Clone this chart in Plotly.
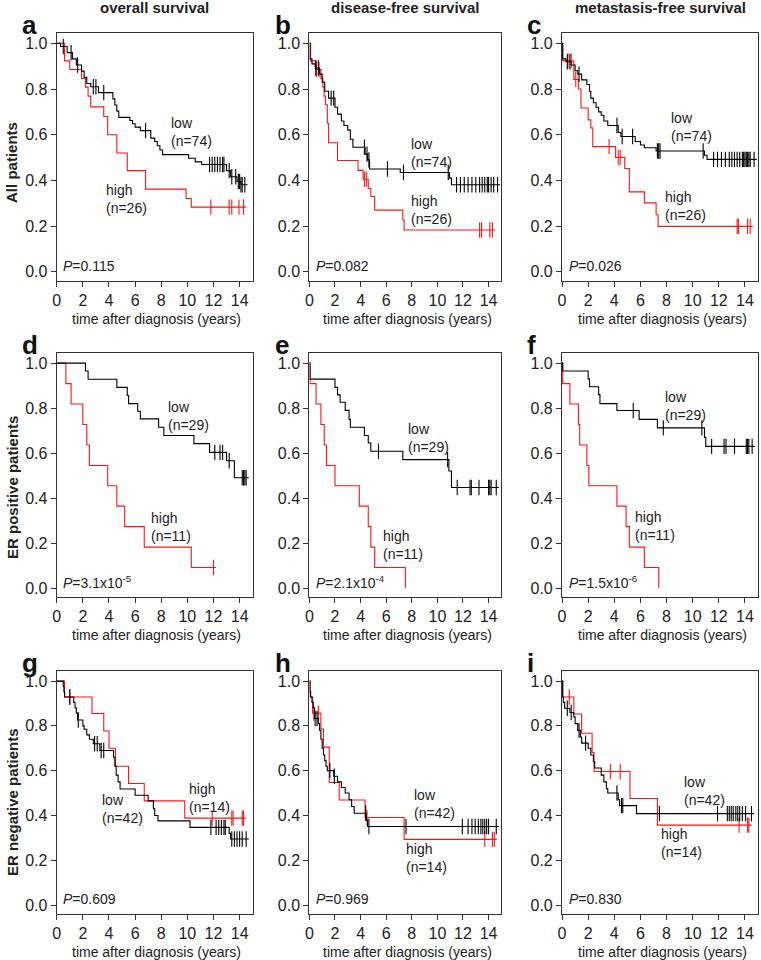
import plotly.graph_objects as go
from plotly.subplots import make_subplots

# ---- data ----
# event times (years) and survival after each step; censor times

# a: all patients, overall survival
A_LOW_T = [0.3, 0.8, 1.2, 1.5, 1.9, 2.1, 2.3, 2.6, 3.2, 4.3, 4.45, 4.6, 4.75, 5.6, 5.8, 6.0, 6.4, 7.2, 7.5,
           7.7, 7.9, 8.1, 10.1, 10.6, 11.1, 13.0, 13.3, 13.8, 14.1]
A_LOW_S = [0.986, 0.959, 0.932, 0.905, 0.878, 0.851, 0.824, 0.810, 0.784, 0.757, 0.730, 0.703, 0.676, 0.662,
           0.648, 0.633, 0.618, 0.585, 0.570, 0.552, 0.533, 0.513, 0.497, 0.481, 0.470, 0.443, 0.416, 0.395, 0.381]
A_LOW_C = [0.5, 1.1, 1.6, 2.8, 3.0, 3.6, 6.8, 11.7, 11.9, 12.1, 12.3, 12.5, 12.7, 12.8, 13.2, 13.4, 13.7,
           13.9, 14.0, 14.1, 14.2, 14.4]
A_HIGH_T = [0.6, 1.0, 1.9, 2.2, 2.4, 2.6, 3.6, 3.9, 4.6, 5.4, 6.8, 9.9, 10.3]
A_HIGH_S = [0.923, 0.885, 0.846, 0.808, 0.769, 0.722, 0.680, 0.600, 0.520, 0.443, 0.362, 0.321, 0.283]
A_HIGH_C = [11.8, 13.2, 13.4, 13.95, 14.3]

# b: all patients, disease-free survival
B_LOW_T = [0.05, 0.2, 0.45, 0.8, 1.0, 1.2, 1.5, 2.0, 2.2, 2.5, 2.7, 3.0, 3.2, 3.4, 4.35, 4.55, 4.7, 7.1, 10.95, 11.1]
B_LOW_S = [0.932, 0.910, 0.892, 0.865, 0.830, 0.790, 0.760, 0.720, 0.690, 0.660, 0.640, 0.620, 0.580, 0.545,
           0.515, 0.490, 0.450, 0.435, 0.410, 0.381]
B_LOW_C = [0.5, 0.7, 1.7, 1.9, 4.3, 4.5, 4.65, 6.1, 7.35, 10.85, 11.5, 11.8, 12.1, 12.4, 12.7, 13.0, 13.3,
           13.5, 13.7, 13.9, 14.0, 14.2, 14.4, 14.7]
B_HIGH_T = [0.1, 0.5, 0.9, 1.05, 1.15, 1.25, 1.4, 1.5, 2.2, 3.8, 4.2, 4.6, 4.8, 5.1, 7.3, 7.4]
B_HIGH_S = [0.923, 0.885, 0.846, 0.808, 0.769, 0.731, 0.650, 0.565, 0.487, 0.444, 0.405, 0.365, 0.330, 0.270,
            0.227, 0.183]
B_HIGH_C = [0.55, 0.75, 4.3, 4.45, 13.3, 13.45, 14.1, 14.3]

# c: all patients, metastasis-free survival
C_LOW_T = [0.05, 0.3, 0.7, 1.0, 1.2, 1.5, 1.9, 2.1, 2.2, 2.4, 2.6, 2.8, 3.0, 3.2, 3.5, 4.3, 4.5, 5.6, 6.0,
           6.3, 7.2, 10.9, 11.1]
C_LOW_S = [0.932, 0.919, 0.905, 0.880, 0.865, 0.840, 0.820, 0.790, 0.760, 0.740, 0.720, 0.700, 0.685, 0.660,
           0.640, 0.610, 0.592, 0.570, 0.555, 0.543, 0.529, 0.510, 0.492]
C_LOW_C = [0.4, 0.6, 1.3, 4.2, 4.6, 5.4, 7.3, 7.4, 7.5, 10.8, 11.6, 11.9, 12.2, 12.5, 12.8, 13.0, 13.2, 13.4,
           13.6, 13.8, 13.9, 14.0, 14.1, 14.2, 14.3, 14.4, 14.7]
C_HIGH_T = [0.05, 0.9, 1.25, 1.45, 2.0, 2.2, 2.35, 4.1, 4.8, 5.15, 6.3, 7.2, 7.35]
C_HIGH_S = [0.923, 0.842, 0.800, 0.717, 0.665, 0.630, 0.548, 0.500, 0.452, 0.350, 0.302, 0.250, 0.199]
C_HIGH_C = [0.45, 0.7, 1.05, 3.6, 4.3, 4.45, 13.4, 13.5, 14.2, 14.4]

# d: ER positive, overall survival
D_LOW_T = [2.2, 2.4, 4.6, 5.4, 5.5, 6.2, 6.4, 7.8, 8.2, 10.5, 11.7, 13.0, 13.6]
D_LOW_S = [0.965, 0.928, 0.892, 0.856, 0.820, 0.786, 0.752, 0.715, 0.678, 0.642, 0.603, 0.566, 0.490]
D_LOW_C = [12.1, 12.5, 12.7, 13.2, 14.2, 14.3, 14.4, 14.5]
D_HIGH_T = [0.7, 1.1, 2.0, 2.3, 2.5, 3.9, 4.6, 5.2, 6.7, 10.3]
D_HIGH_S = [0.909, 0.818, 0.727, 0.636, 0.545, 0.455, 0.364, 0.273, 0.182, 0.091]
D_HIGH_C = [12.0]

# e: ER positive, disease-free survival
E_LOW_T = [0.05, 2.0, 2.2, 2.4, 2.8, 3.1, 3.2, 4.3, 4.6, 4.8, 7.3, 10.9, 11.1]
E_LOW_S = [0.929, 0.892, 0.859, 0.826, 0.790, 0.750, 0.715, 0.678, 0.645, 0.608, 0.571, 0.520, 0.447]
E_LOW_C = [5.4, 10.8, 11.55, 12.55, 12.65, 13.25, 14.0, 14.1, 14.2, 14.6]
E_HIGH_T = [0.05, 0.52, 0.9, 1.16, 1.34, 2.0, 3.9, 4.6, 4.8, 5.1, 7.5]
E_HIGH_S = [0.909, 0.818, 0.727, 0.636, 0.545, 0.455, 0.364, 0.273, 0.182, 0.091, 0.0]
E_HIGH_C = []

# f: ER positive, metastasis-free survival
F_LOW_T = [0.05, 2.0, 2.1, 2.8, 2.9, 4.2, 5.9, 7.3, 10.9, 11.0]
F_LOW_S = [0.965, 0.930, 0.895, 0.860, 0.820, 0.789, 0.750, 0.712, 0.670, 0.630]
F_LOW_C = [5.45, 7.75, 10.7, 11.45, 12.4, 12.55, 13.2, 14.1, 14.2, 14.3, 14.55]
F_HIGH_T = [0.05, 0.6, 1.25, 1.35, 1.9, 2.05, 4.2, 4.9, 5.15, 6.3, 7.4]
F_HIGH_S = [0.909, 0.818, 0.727, 0.636, 0.545, 0.455, 0.364, 0.273, 0.182, 0.091, 0.0]
F_HIGH_C = []

# g: ER negative, overall survival
G_LOW_T = [0.5, 0.55, 0.6, 1.3, 1.4, 1.5, 1.6, 2.0, 2.1, 2.3, 2.5, 2.8, 3.3, 4.35, 4.45, 4.55, 4.7, 4.85, 6.0,
           7.0, 7.4, 7.5, 7.75, 10.2, 13.2, 13.3]
G_LOW_S = [0.976, 0.952, 0.929, 0.905, 0.881, 0.857, 0.826, 0.800, 0.785, 0.760, 0.740, 0.720, 0.690, 0.660,
           0.620, 0.580, 0.550, 0.518, 0.490, 0.465, 0.430, 0.400, 0.376, 0.347, 0.320, 0.295]
G_LOW_C = [1.0, 1.65, 2.9, 3.1, 3.4, 3.6, 11.8, 12.2, 12.4, 12.6, 12.8, 12.9, 13.4, 13.6, 13.8, 14.0, 14.2, 14.5]
G_HIGH_T = [0.6, 2.7, 3.6, 4.0, 4.5, 5.5, 6.7, 9.8]
G_HIGH_S = [0.929, 0.855, 0.777, 0.700, 0.620, 0.543, 0.465, 0.388]
G_HIGH_C = [1.0, 11.9, 13.4, 13.5, 14.2, 14.3]

# h: ER negative, disease-free survival
H_LOW_T = [0.05, 0.1, 0.2, 0.3, 0.4, 0.7, 0.8, 0.9, 1.0, 1.1, 1.2, 1.3, 1.4, 1.9, 2.2, 2.5, 2.8, 3.1, 3.3,
           3.5, 4.45, 4.55]
H_LOW_S = [0.952, 0.929, 0.905, 0.881, 0.833, 0.810, 0.780, 0.740, 0.700, 0.670, 0.645, 0.620, 0.600, 0.575,
           0.550, 0.525, 0.500, 0.470, 0.440, 0.410, 0.380, 0.351]
H_LOW_C = [0.45, 0.6, 1.6, 1.95, 4.4, 4.65, 7.55, 11.95, 12.4, 12.7, 12.95, 13.2, 13.4, 13.55, 13.7, 13.85,
           14.0, 14.6]
H_HIGH_T = [0.05, 0.25, 0.9, 1.1, 1.55, 2.33, 4.35, 7.4]
H_HIGH_S = [0.929, 0.857, 0.786, 0.705, 0.547, 0.469, 0.391, 0.293]
H_HIGH_C = [0.35, 0.7, 4.5, 13.7, 14.3, 14.45]

# i: ER negative, metastasis-free survival
I_LOW_T = [0.05, 0.1, 0.2, 0.6, 0.9, 1.0, 1.2, 1.4, 1.5, 2.0, 2.2, 2.4, 2.5, 3.0, 3.2, 3.4, 3.5, 4.3, 4.4, 5.7]
I_LOW_S = [0.929, 0.905, 0.879, 0.860, 0.840, 0.810, 0.780, 0.750, 0.723, 0.700, 0.670, 0.640, 0.612, 0.580,
           0.550, 0.520, 0.500, 0.470, 0.444, 0.408]
I_LOW_C = [0.4, 0.7, 1.3, 1.8, 4.2, 4.55, 4.65, 7.45, 11.9, 12.65, 12.8, 12.95, 13.1, 13.3, 13.45, 13.6, 13.8,
           14.05, 14.5]
I_HIGH_T = [0.05, 0.9, 1.5, 2.3, 2.45, 5.2, 7.3]
I_HIGH_S = [0.929, 0.853, 0.767, 0.681, 0.596, 0.476, 0.357]
I_HIGH_C = [0.55, 3.7, 4.45, 13.55, 14.2, 14.3]

P_TEXT = ['0.115', '0.082', '0.026', '3.1x10<sup>-5</sup>', '2.1x10<sup>-4</sup>', '1.5x10<sup>-6</sup>',
          '0.609', '0.969', '0.830']
N_LOW = [74, 74, 74, 29, 29, 29, 42, 42, 42]
N_HIGH = [26, 26, 26, 11, 11, 11, 14, 14, 14]
LETTERS = ['a', 'b', 'c', 'd', 'e', 'f', 'g', 'h', 'i']
COL_TITLES = ['overall survival', 'disease-free survival', 'metastasis-free survival']
ROW_TITLES = ['All patients', 'ER positive patients', 'ER negative patients']

LOW = [(A_LOW_T, A_LOW_S, A_LOW_C), (B_LOW_T, B_LOW_S, B_LOW_C), (C_LOW_T, C_LOW_S, C_LOW_C),
       (D_LOW_T, D_LOW_S, D_LOW_C), (E_LOW_T, E_LOW_S, E_LOW_C), (F_LOW_T, F_LOW_S, F_LOW_C),
       (G_LOW_T, G_LOW_S, G_LOW_C), (H_LOW_T, H_LOW_S, H_LOW_C), (I_LOW_T, I_LOW_S, I_LOW_C)]
HIGH = [(A_HIGH_T, A_HIGH_S, A_HIGH_C), (B_HIGH_T, B_HIGH_S, B_HIGH_C), (C_HIGH_T, C_HIGH_S, C_HIGH_C),
        (D_HIGH_T, D_HIGH_S, D_HIGH_C), (E_HIGH_T, E_HIGH_S, E_HIGH_C), (F_HIGH_T, F_HIGH_S, F_HIGH_C),
        (G_HIGH_T, G_HIGH_S, G_HIGH_C), (H_HIGH_T, H_HIGH_S, H_HIGH_C), (I_HIGH_T, I_HIGH_S, I_HIGH_C)]

# label placement (data coords: x left edge, y centre of the two lines)
LOW_POS = [(8.6, 0.61), (7.8, 0.52), (8.2, 0.635), (8.4, 0.765), (7.55, 0.665), (7.7, 0.81),
           (3.3, 0.43), (8.0, 0.45), (9.2, 0.51)]
HIGH_POS = [(3.6, 0.32), (7.8, 0.27), (7.75, 0.29), (7.1, 0.27), (5.6, 0.19), (5.4, 0.275),
            (10.0, 0.48), (7.4, 0.21), (7.4, 0.275)]

W, H = 761, 960
COL_X = [(53, 250), (307, 500), (561, 758)]   # box edges in px
ROW_Y = [(33, 281), (353, 597), (671, 914)]
RED = '#ff1414'
FONT = 'Arial, Liberation Sans, sans-serif'
TAIL = 0.2


def step_at(t, times, surv):
    s = 1.0
    for ti, si in zip(times, surv):
        if ti <= t:
            s = si
    return s


def curve(times, surv, cens):
    end = max(times + cens) + (TAIL if cens else 0)
    xs = [0] + times + [end]
    ys = [1.0] + surv + [surv[-1] if surv else 1.0]
    cy = [step_at(c, times, surv) for c in cens]
    return xs, ys, cy


fig = make_subplots(rows=3, cols=3)

for k in range(9):
    r, c = k // 3, k % 3
    for grp, color in ((HIGH[k], RED), (LOW[k], 'black')):
        t, s, cens = grp
        xs, ys, cy = curve(t, s, cens)
        fig.add_trace(go.Scatter(x=xs, y=ys, mode='lines', line=dict(color=color, width=1.1, shape='hv'),
                                 showlegend=False, hoverinfo='skip'), row=r + 1, col=c + 1)
        if cens:
            fig.add_trace(go.Scatter(x=cens, y=cy, mode='markers', showlegend=False, hoverinfo='skip',
                                     marker=dict(symbol='line-ns', size=11, line=dict(width=1.1, color=color))),
                          row=r + 1, col=c + 1)

annotations = []
for k in range(9):
    r, c = k // 3, k % 3
    x0, x1 = COL_X[c]
    y0, y1 = ROW_Y[r]
    fig.update_xaxes(domain=[x0 / W, x1 / W], row=r + 1, col=c + 1)
    fig.update_yaxes(domain=[1 - y1 / H, 1 - y0 / H], row=r + 1, col=c + 1)
    suf = '' if k == 0 else str(k + 1)
    xr, yr = 'x' + suf, 'y' + suf
    annotations.append(dict(x=LOW_POS[k][0], y=LOW_POS[k][1], xref=xr, yref=yr, xanchor='left', yanchor='middle',
                            align='left', showarrow=False, text='low<br>(n=%d)' % N_LOW[k],
                            font=dict(size=14, color='#222')))
    annotations.append(dict(x=HIGH_POS[k][0], y=HIGH_POS[k][1], xref=xr, yref=yr, xanchor='left',
                            yanchor='middle', align='left', showarrow=False, text='high<br>(n=%d)' % N_HIGH[k],
                            font=dict(size=14, color='#222')))
    annotations.append(dict(x=0.35, y=0.025, xref=xr, yref=yr, xanchor='left', yanchor='middle',
                            showarrow=False, text='<i>P</i>=' + P_TEXT[k], font=dict(size=14, color='#222')))
    # x axis title
    annotations.append(dict(x=(x0 + x1) / 2 / W + 2 / W, y=1 - (y1 + 38) / H, xref='paper', yref='paper',
                            xanchor='center', yanchor='middle', showarrow=False,
                            text='time after diagnosis (years)', font=dict(size=14, color='#222')))
    # panel letter
    annotations.append(dict(x=(x0 - 37) / W, y=1 - (y0 - 8) / H, xref='paper',
                            yref='paper', xanchor='left', yanchor='middle', showarrow=False,
                            text='<b>%s</b>' % LETTERS[k], font=dict(size=26, color='#111')))

for c in range(3):
    x0, x1 = COL_X[c]
    annotations.append(dict(x=(x0 + x1) / 2 / W, y=1 - 7 / H, xref='paper', yref='paper', xanchor='center',
                            yanchor='middle', showarrow=False, text='<b>%s</b>' % COL_TITLES[c],
                            font=dict(size=15, color='#222')))
row_centres = [162, 487, 802]
for r in range(3):
    annotations.append(dict(x=8 / W, y=1 - row_centres[r] / H, xref='paper', yref='paper', xanchor='center',
                            yanchor='middle', showarrow=False, textangle=-90, text='<b>%s</b>' % ROW_TITLES[r],
                            font=dict(size=15, color='#222')))

fig.update_xaxes(range=[0, 15], tickmode='array', tickvals=[0, 2, 4, 6, 8, 10, 12, 14], ticks='outside',
                 ticklen=5, tickwidth=1, tickcolor='#333', showline=True, linecolor='#333', linewidth=1.2,
                 mirror=True, showgrid=False, zeroline=False, tickfont=dict(size=16, color='#222'))
fig.update_yaxes(range=[-0.04, 1.045], tickmode='array', tickvals=[0, 0.2, 0.4, 0.6, 0.8, 1.0],
                 tickformat='.1f', ticks='outside', ticklen=5, tickwidth=1, tickcolor='#333', showline=True,
                 linecolor='#333', linewidth=1.2, mirror=True, showgrid=False, zeroline=False,
                 tickfont=dict(size=16, color='#222'))

fig.update_layout(width=W, height=H, margin=dict(l=0, r=0, t=0, b=0), plot_bgcolor='white',
                  paper_bgcolor='white', font=dict(family=FONT), annotations=annotations, showlegend=False)

# page body has a default 8px margin; drop it so the figure fills the window
fig.write_html("out.html", config={'displayModeBar': False},
               post_script="document.body.style.margin='0';")
